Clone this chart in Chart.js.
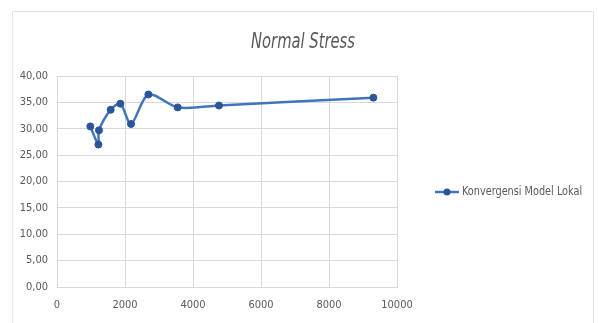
<!DOCTYPE html>
<html>
<head>
<meta charset="utf-8">
<script src="https://cdn.jsdelivr.net/npm/chart.js@4"></script>
<style>
  html, body { margin: 0; padding: 0; background: #fff; }
  #wrap { width: 598px; height: 323px; position: relative; }
</style>
</head>
<body>
<div id="wrap"><canvas id="c" width="598" height="323"></canvas></div>
<script>
// Mesh size (element count) vs. normal stress
const elementCounts = [980, 1218, 1235, 1579, 1864, 2177, 2688, 3550, 4765, 9306];
const normalStress  = [30.45, 27.0, 29.7, 33.6, 34.75, 30.9, 36.5, 34.05, 34.4, 35.9];
const seriesLabel = 'Konvergensi Model Lokal';
const chartTitle = 'Normal Stress';
const xTicks = [0, 2000, 4000, 6000, 8000, 10000];
const yTicks = [0, 5, 10, 15, 20, 25, 30, 35, 40];

const FONT = "'Liberation Sans Narrow', 'DejaVu Sans Condensed', 'Roboto Condensed', 'Liberation Sans', sans-serif";
const TEXT = '#595959';
const GRID = '#d9d9d9';
const LINE = '#4274be';
const MARK = '#2a5597';

const points = elementCounts.map((x, i) => ({ x, y: normalStress[i] }));

// draws text squeezed horizontally to a narrow face
function narrowText(ctx, text, x, y, squeeze, align) {
  ctx.save();
  ctx.translate(x, y);
  ctx.scale(squeeze, 1);
  ctx.textAlign = align;
  ctx.fillText(text, 0, 0);
  ctx.restore();
}

// frame, title and legend drawn around the plot
const decor = {
  id: 'decor',
  beforeDraw(chart) {
    const ctx = chart.ctx;
    ctx.save();
    ctx.fillStyle = '#fff';
    ctx.fillRect(0, 0, chart.width, chart.height);
    ctx.strokeStyle = '#e3e3e3';
    ctx.lineWidth = 1;
    ctx.beginPath();
    ctx.moveTo(12.5, 323);
    ctx.lineTo(12.5, 11.5);
    ctx.lineTo(593.5, 11.5);
    ctx.lineTo(593.5, 323);
    ctx.stroke();
    ctx.restore();
  },
  afterDraw(chart) {
    const ctx = chart.ctx;
    ctx.save();
    // title
    ctx.fillStyle = TEXT;
    ctx.font = 'italic 21px ' + FONT;
    ctx.textBaseline = 'middle';
    narrowText(ctx, chartTitle, 303, 43, 0.78, 'center');
    // legend
    const ds = chart.data.datasets[0];
    const ly = 192;
    ctx.strokeStyle = ds.borderColor;
    ctx.lineWidth = 2.5;
    ctx.beginPath();
    ctx.moveTo(435, ly);
    ctx.lineTo(459, ly);
    ctx.stroke();
    ctx.fillStyle = ds.pointBackgroundColor;
    ctx.beginPath();
    ctx.arc(447, ly, 3.5, 0, Math.PI * 2);
    ctx.fill();
    ctx.fillStyle = TEXT;
    ctx.font = '12px ' + FONT;
    narrowText(ctx, ds.label, 462, ly, 0.9, 'left');
    ctx.restore();
  }
};

new Chart(document.getElementById('c'), {
  type: 'scatter',
  data: {
    datasets: [{
      label: seriesLabel,
      data: points,
      showLine: true,
      tension: 0.3,
      borderColor: LINE,
      borderWidth: 2.5,
      pointBackgroundColor: MARK,
      pointBorderColor: MARK,
      pointRadius: 3.5,
      pointBorderWidth: 1
    }]
  },
  options: {
    responsive: false,
    animation: false,
    layout: { padding: { left: 12, right: 201, top: 76, bottom: 0 } },
    plugins: { legend: { display: false }, title: { display: false }, tooltip: { enabled: false } },
    scales: {
      x: {
        type: 'linear',
        min: 0, max: 10000,
        afterBuildTicks: (s) => { s.ticks = xTicks.map(v => ({ value: v })); },
        afterFit: (s) => { s.height = 36; },
        grid: { color: GRID, drawTicks: false },
        border: { color: GRID },
        ticks: { color: TEXT, padding: 12, font: { family: FONT, size: 11 }, maxRotation: 0, callback: v => String(v) }
      },
      y: {
        min: 0, max: 40,
        afterBuildTicks: (s) => { s.ticks = yTicks.map(v => ({ value: v })); },
        afterFit: (s) => { s.width = 45; },
        grid: { color: GRID, drawTicks: false },
        border: { color: GRID },
        ticks: { color: TEXT, padding: 9, font: { family: FONT, size: 11 }, callback: v => v.toFixed(2).replace('.', ',') }
      }
    }
  },
  plugins: [decor]
});
</script>
</body>
</html>
